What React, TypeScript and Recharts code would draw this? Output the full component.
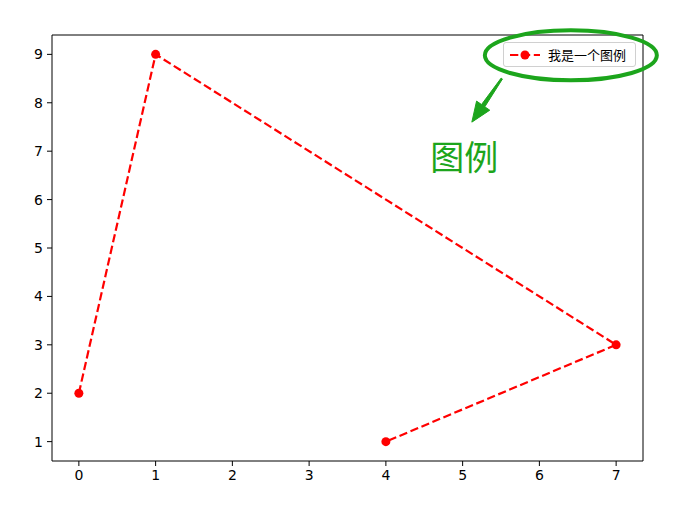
import React from "react";
import {
  LineChart, Line, XAxis, YAxis, ReferenceLine, ReferenceDot, Legend,
} from "recharts";

const xValues = [0, 1, 7, 4];
const yValues = [2, 9, 3, 1];
const xTicks = [0, 1, 2, 3, 4, 5, 6, 7];
const yTicks = [1, 2, 3, 4, 5, 6, 7, 8, 9];
const seriesName = "我是一个图例";
const noteText = "图例";

const data = xValues.map((x, i) => ({ x, y: yValues[i] }));

const RED = "#ff0000";
const GREEN = "#1ca51c";
const FONT = "'DejaVu Sans', 'Noto Sans CJK SC', sans-serif";

function LegendBox() {
  return (
    <div
      style={{
        position: "absolute",
        left: 0,
        top: 0,
        width: 131,
        display: "flex",
        alignItems: "center",
        height: 23,
        border: "1px solid #d0d0d0",
        borderRadius: 3,
        background: "rgba(255,255,255,0.8)",
        fontFamily: "'Noto Sans CJK SC', sans-serif",
        fontSize: 13,
        color: "#000",
      }}
    >
      <svg width={40} height={20} style={{ marginLeft: 4 }}>
        <line x1={2} y1={10} x2={32} y2={10} stroke={RED} strokeWidth={2.2} strokeDasharray="8.3 3.6" />
        <circle cx={17} cy={10} r={4.5} fill={RED} />
      </svg>
      <span style={{ marginLeft: 0 }}>{seriesName}</span>
    </div>
  );
}

function Ellipse(props: any) {
  const { cx, cy } = props;
  return <ellipse cx={cx} cy={cy} rx={86} ry={25} fill="none" stroke={GREEN} strokeWidth={4} />;
}

function NoteText(props: any) {
  const { cx, cy } = props;
  return (
    <text x={cx} y={cy} textAnchor="middle" dominantBaseline="central" fill={GREEN}
      fontSize={34} fontFamily="'Noto Sans CJK SC', sans-serif">
      {noteText}
    </text>
  );
}

function Arrow(props: any) {
  const { x1, y1, x2, y2 } = props;
  if ([x1, y1, x2, y2].some((v) => typeof v !== "number")) return null;
  const dx = x2 - x1;
  const dy = y2 - y1;
  const len = Math.hypot(dx, dy);
  const ux = dx / len;
  const uy = dy / len;
  const px = -uy;
  const py = ux;
  const headLen = 20;
  const headW = 8;
  const shaftW = 2;
  const bx = x2 - ux * headLen;
  const by = y2 - uy * headLen;
  const pts = [
    [x1 + px * shaftW * 0.4, y1 + py * shaftW * 0.4],
    [bx + px * shaftW, by + py * shaftW],
    [bx + px * headW, by + py * headW],
    [x2, y2],
    [bx - px * headW, by - py * headW],
    [bx - px * shaftW, by - py * shaftW],
    [x1 - px * shaftW * 0.4, y1 - py * shaftW * 0.4],
  ];
  return <polygon points={pts.map((p) => p.join(",")).join(" ")} fill={GREEN} stroke={GREEN} strokeWidth={1} />;
}

export default function App() {
  return (
    <div style={{ position: "absolute", left: 0, top: 0, background: "#fff" }}>
      <LineChart width={687} height={515} data={data} margin={{ top: 35, right: 44, bottom: 0, left: 0 }}>
        <XAxis
          dataKey="x"
          type="number"
          domain={[-0.35, 7.35]}
          ticks={xTicks}
          allowDataOverflow
          height={54}
          stroke="#000"
          tickSize={5}
          tickMargin={4}
          tick={{ fill: "#000", fontSize: 14, fontFamily: FONT }}
        />
        <YAxis
          type="number"
          domain={[0.6, 9.4]}
          ticks={yTicks}
          allowDataOverflow
          width={52}
          stroke="#000"
          tickSize={5}
          tickMargin={4}
          tick={{ fill: "#000", fontSize: 14, fontFamily: FONT }}
        />
        <ReferenceLine x={7.35} stroke="#000" strokeWidth={1} ifOverflow="visible" />
        <ReferenceLine y={9.4} stroke="#000" strokeWidth={1} ifOverflow="visible" />
        <Legend
          verticalAlign="top"
          align="right"
          content={() => <LegendBox />}
          wrapperStyle={{ top: 42, left: 503, width: 133, height: 0, overflow: "visible" }}
        />
        <Line
          dataKey="y"
          name={seriesName}
          stroke={RED}
          strokeWidth={2.2}
          strokeDasharray="8.3 3.6"
          dot={{ r: 4.5, fill: RED, stroke: RED, strokeWidth: 0 }}
          isAnimationActive={false}
        />
        <ReferenceDot x={6.41} y={8.98} ifOverflow="visible" shape={(p: any) => <Ellipse {...p} />} />
        <ReferenceLine
          segment={[{ x: 5.51, y: 8.5 }, { x: 5.12, y: 7.6 }]}
          ifOverflow="visible"
          shape={(p: any) => <Arrow {...p} />}
        />
        <ReferenceDot x={5.02} y={6.92} ifOverflow="visible" shape={(p: any) => <NoteText {...p} />} />
      </LineChart>
    </div>
  );
}
